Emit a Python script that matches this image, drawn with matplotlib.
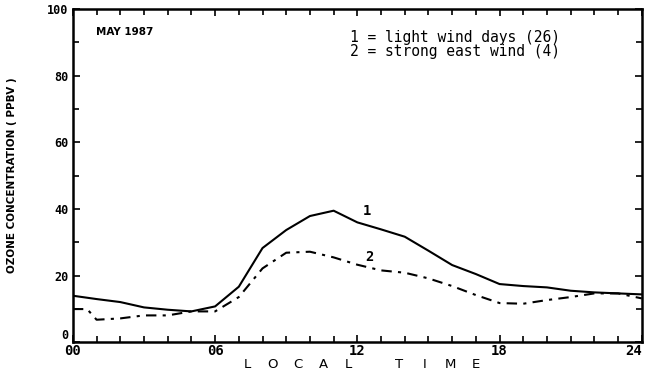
"""Diurnal ozone cycle, May 1987: light wind days vs strong east wind."""

import matplotlib
matplotlib.use('Agg')
import matplotlib.pyplot as plt
from matplotlib.ticker import MultipleLocator, FixedLocator

# hourly means
hours1 = [0, 1, 2, 3, 4, 5, 6, 7, 8, 9, 10, 11, 12,
          13, 14, 15, 16, 17, 18, 19, 20, 21, 22, 23, 24]
ozone1 = [14.0, 13.0, 12.1, 10.5, 9.8, 9.3, 10.8, 16.7, 28.3, 33.7, 37.9, 39.5, 36.0,
          33.9, 31.7, 27.5, 23.2, 20.5, 17.5, 16.9, 16.5, 15.5, 15.0, 14.7, 14.4]

hours2 = [0, 0.6, 1, 2, 3, 4, 5, 6, 7, 8, 9, 10, 11, 12,
          13, 14, 15, 16, 17, 18, 19, 20, 21, 22, 23, 24]
ozone2 = [10.0, 10.0, 6.8, 7.2, 8.1, 8.1, 9.3, 9.3, 13.6, 22.2, 26.9, 27.2, 25.5, 23.3,
          21.6, 20.9, 19.2, 16.9, 14.2, 11.8, 11.6, 12.7, 13.6, 14.7, 14.7, 13.2]

xticks      = [0, 6, 12, 18, 24]
xticklabels = ['00', '06', '12', '18', '24']
yticks      = [0, 20, 40, 60, 80, 100]

legend_lines = ['1 = light wind days (26)', '2 = strong east wind (4)']

fig = plt.figure(figsize=(6.45, 3.73), dpi=100)
ax = fig.add_axes([0.113, 0.082, 0.882, 0.894])

ax.plot(hours1, ozone1, color='black', lw=1.5, ls='-')
ax.plot(hours2, ozone2, color='black', lw=1.5, ls=(0, (5, 3, 1.5, 3)))

ax.set_xlim(0, 24)
ax.set_ylim(0, 100)

ax.xaxis.set_major_locator(FixedLocator(xticks))
ax.xaxis.set_minor_locator(MultipleLocator(1))
ax.yaxis.set_major_locator(FixedLocator(yticks))
ax.yaxis.set_minor_locator(MultipleLocator(10))
xl = ax.set_xticklabels(xticklabels, family='DejaVu Sans Mono', fontweight='bold', fontsize=10)
yl = ax.set_yticklabels([str(v) for v in yticks], family='DejaVu Sans Mono',
                        fontweight='bold', fontsize=8.5)
xl[-1].set_ha('right')     # keep "24" inside the frame
yl[0].set_va('bottom')     # lift "0" clear of "00"

ax.tick_params(which='both', direction='in', top=True, right=True, width=1.2)
ax.tick_params(which='major', length=5)
ax.tick_params(which='minor', length=4)
ax.tick_params(axis='x', pad=1)
ax.tick_params(axis='y', pad=3)
for s in ax.spines.values():
    s.set_linewidth(1.8)

# curve labels
ax.text(12.4, 39.5, '1', fontsize=10, family='DejaVu Sans Mono', fontweight='bold',
        ha='center', va='center')
ax.text(12.5, 25.5, '2', fontsize=10, family='DejaVu Sans Mono', fontweight='bold',
        ha='center', va='center')

ax.text(0.04, 0.93, 'MAY 1987', transform=ax.transAxes, fontsize=7.5,
        fontweight='bold', family='DejaVu Sans', ha='left', va='center')
ax.text(0.487, 0.893, '\n'.join(legend_lines), transform=ax.transAxes,
        fontsize=10.5, family='DejaVu Sans Mono', ha='left', va='center',
        linespacing=0.95)

# spaced-out axis title
letters = 'LOCAL TIME'
x0 = 0.383
for i, ch in enumerate(letters):
    fig.text(x0 + i * 0.0394, 0.022, ch, fontsize=9.5, family='DejaVu Sans',
             ha='center', va='center')

fig.text(0.018, 0.53, 'OZONE CONCENTRATION ( PPBV )', rotation=90,
         fontsize=7.5, fontweight='bold', family='DejaVu Sans Condensed',
         ha='center', va='center')

plt.savefig('out.png', dpi=100)
